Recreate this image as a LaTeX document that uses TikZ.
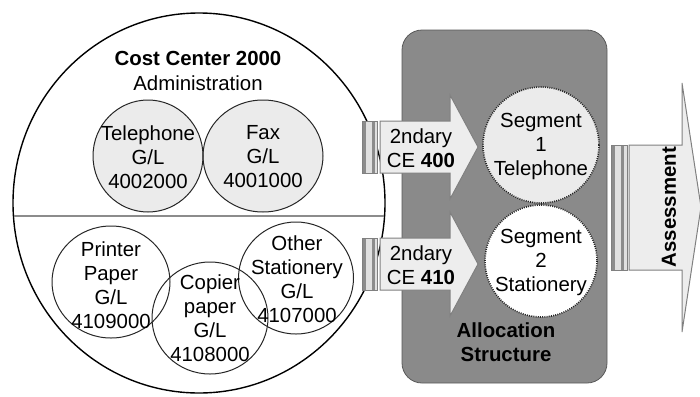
\documentclass[tikz,border=0pt]{standalone}
\usepackage{fontspec}
\setmainfont{Liberation Sans}
\usetikzlibrary{shapes.geometric}

\begin{document}
\begin{tikzpicture}[x=0.5pt, y=-0.5pt,
  every node/.style={font=\fontsize{10.2}{12}\selectfont, align=center, inner sep=0pt},
  glfill/.style={fill=black!8},
  gledge/.style={draw=black!85, line width=0.5pt},
  segcirc/.style={draw=black!85, dash pattern=on 0.5pt off 0.6pt, line width=0.8pt},
  blockarrow/.style={fill=black!7, draw=black!50, line width=0.5pt},
  tailbar/.style={fill=black!12, draw=black!50, line width=0.4pt},
  barstripe/.style={fill=black!45}]

\useasboundingbox (0,0) rectangle (700,396);

% Cost center circle and its split line
\node[ellipse, draw, line width=0.7pt, minimum width=186pt, minimum height=190pt] (cc) at (199,203) {};
\draw[black!45, line width=0.9pt] (14,216) -- (384,216);
\node[font=\fontsize{10.2}{12}\selectfont\bfseries] (cctitle) at (198,58) {Cost Center 2000};
\node (ccname) at (198,83) {Administration};

% G/L circles, fills first so that every outline stays visible
\foreach \x/\y/\w in {148/156/110, 263/156/120}
  \fill[glfill] (\x,\y) ellipse [x radius=\w/2, y radius=56];
\foreach \x/\y/\w in {148/156/110, 263/156/120, 111/282/118, 210/318/116, 296/278/115}
  \draw[gledge] (\x,\y) ellipse [x radius=\w/2, y radius=56];

\node (tel) at (148,157) {Telephone\\G/L\\4002000};
\node (fax) at (263,157) {Fax\\G/L\\4001000};
\node (printer) at (111,285) {Printer\\Paper\\G/L\\4109000};
\node (copier) at (210,318) {Copier\\paper\\G/L\\4108000};
\node (other) at (297,279) {Other\\Stationery\\G/L\\4107000};

% Allocation structure box
\node[draw=black!65, fill=black!46, rounded corners=10pt, minimum width=102.5pt, minimum height=176.5pt] (alloc) at (504.5,206.5) {};
\node[font=\fontsize{10.2}{12}\selectfont\bfseries] (allocname) at (506,342) {Allocation\\Structure};

% Segments
\draw[segcirc, fill=black!8] (541,145) circle [radius=58];
\draw[segcirc, fill=white] (541,261) circle [radius=56];
\node (seg1) at (541,146) {Segment\\1\\Telephone};
\node (seg2) at (541,262) {Segment\\2\\Stationery};

% Secondary cost element arrows
\foreach \n/\yc/\num in {ce400/147/400, ce410/264/410} {
  \draw[tailbar] (362,\yc-26) rectangle (377,\yc+26);   % tail
  \fill[barstripe] (362.5,\yc-25.5) rectangle (366,\yc+25.5);
  \fill[barstripe] (372,\yc-25.5) rectangle (374.5,\yc+25.5);
  \draw[blockarrow] (380,\yc-26) -- (450,\yc-26) -- (450,\yc-52) -- (478,\yc)
     -- (450,\yc+52) -- (450,\yc+26) -- (380,\yc+26) -- cycle;
  \node (\n) at (421,\yc+1) {2ndary\\CE \textbf{\num}};
}

% Assessment arrow
\draw[tailbar] (611,145) rectangle (627,270);
\fill[barstripe] (611.5,145.5) rectangle (615,269.5);
\fill[barstripe] (621,145.5) rectangle (624,269.5);
\draw[blockarrow] (629,145) -- (682,145) -- (682,83) -- (701,207) -- (682,332)
   -- (682,270) -- (629,270) -- cycle;
\node[rotate=90, font=\fontsize{10.2}{12}\selectfont\bfseries] (assess) at (669,207) {Assessment};

\end{tikzpicture}
\end{document}
